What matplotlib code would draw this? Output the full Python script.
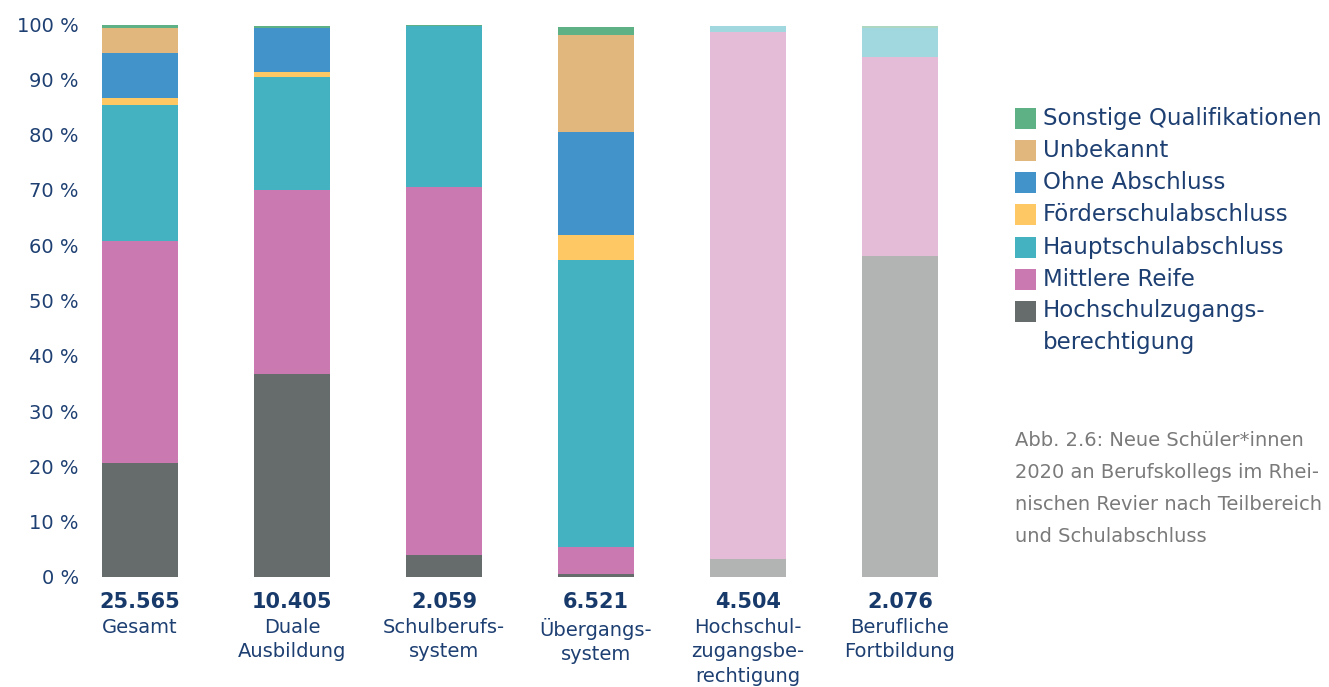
import matplotlib.pyplot as plt
from matplotlib.patches import Rectangle
import numpy as np

# --- Data (shares in %) ---
categories = ["Gesamt", "Duale\nAusbildung", "Schulberufs-\nsystem", "Übergangs-\nsystem",
              "Hochschul-\nzugangsbe-\nrechtigung", "Berufliche\nFortbildung"]
totals = ["25.565", "10.405", "2.059", "6.521", "4.504", "2.076"]

hochschulzugang = [20.7, 36.7, 4.0, 0.5, 3.3, 58.0]
mittlere_reife = [40.0, 33.3, 66.5, 4.9, 95.3, 36.0]
hauptschul = [24.7, 20.4, 29.1, 52.0, 1.0, 5.3]
foerderschul = [1.2, 0.9, 0.0, 4.5, 0.0, 0.0]
ohne_abschluss = [8.2, 7.9, 0.0, 18.6, 0.0, 0.0]
unbekannt = [4.5, 0.0, 0.0, 17.5, 0.0, 0.0]
sonstige = [0.5, 0.5, 0.3, 1.5, 0.0, 0.3]

series = [
    ("Hochschulzugangs-\nberechtigung", hochschulzugang, "#666b6b"),
    ("Mittlere Reife", mittlere_reife, "#ca7ab0"),
    ("Hauptschulabschluss", hauptschul, "#45b2c1"),
    ("Förderschulabschluss", foerderschul, "#fec964"),
    ("Ohne Abschluss", ohne_abschluss, "#4293c9"),
    ("Unbekannt", unbekannt, "#e1b77e"),
    ("Sonstige Qualifikationen", sonstige, "#5eb085"),
]

navy = "#1d3f72"
plt.rcParams['font.family'] = ['DejaVu Sans']

fig = plt.figure(figsize=(13.29, 6.87), dpi=100)
ax = fig.add_axes([90 / 1329, 1 - 577 / 687, 860 / 1329, 553 / 687])

x = np.arange(len(categories))
# the last two groups are drawn faded
alphas = np.array([1, 1, 1, 1, 0.5, 0.5])
bottom = np.zeros(len(categories))
for label, vals, color in series:
    vals = np.array(vals)
    for i in range(len(x)):
        ax.bar(x[i], vals[i], 0.5, bottom=bottom[i], color=color, alpha=alphas[i],
               linewidth=0)
    bottom += vals

ax.set_xlim(-0.329, 5.329)
ax.set_ylim(0, 100)
ax.set_yticks(np.arange(0, 101, 10))
ax.set_yticklabels([f"{v} %" for v in range(0, 101, 10)], fontsize=14, color=navy)
ax.tick_params(axis='y', length=0, pad=8)
ax.set_xticks([])
for s in ax.spines.values():
    s.set_visible(False)

# totals and category names under the bars
trans = ax.get_xaxis_transform()
for i, (tot, cat) in enumerate(zip(totals, categories)):
    ax.text(x[i], -0.045, tot, transform=trans, ha='center', va='center',
            fontsize=15, fontweight='bold', color="#173a6b")
    ax.text(x[i], -0.074, cat, transform=trans, ha='center', va='top',
            fontsize=14, color=navy, linespacing=1.36)

# legend, top entry first
row_y = 118
for label, vals, color in reversed(series):
    fig.patches.append(Rectangle((1015 / 1329, 1 - (row_y + 10.5) / 687), 21 / 1329, 21 / 687,
                                 transform=fig.transFigure, color=color, linewidth=0))
    fig.text(1043 / 1329, 1 - row_y / 687, label, ha='left', va='top' if '\n' in label else 'center',
             fontsize=16.5, color=navy, linespacing=1.5)
    row_y += 32.3
# two-line entry: align its first line with the swatch
fig.texts[-1].set_position((1043 / 1329, 1 - (312 - 13) / 687))

caption = ["Abb. 2.6: Neue Schüler*innen", "2020 an Berufskollegs im Rhei-",
           "nischen Revier nach Teilbereich", "und Schulabschluss"]
for j, line in enumerate(caption):
    fig.text(1015 / 1329, 1 - (441 + 31.7 * j) / 687, line, ha='left', va='center',
             fontsize=14, color="#7a7a7a")

fig.savefig("out.png", dpi=100)
